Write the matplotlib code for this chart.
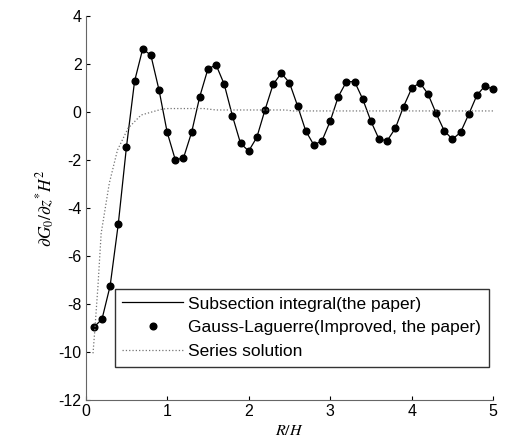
import numpy as np
import matplotlib
matplotlib.use('Agg')
import matplotlib.pyplot as plt

plt.rcParams['font.family'] = ['Liberation Sans', 'DejaVu Sans']
plt.rcParams['mathtext.fontset'] = 'stix'
plt.rcParams['axes.unicode_minus'] = False

# Gauss-Laguerre / subsection integral values, R/H = 0.1 ... 5.0
r_h = np.round(np.arange(1, 51) * 0.1, 1)
g_values = [-8.98, -8.65, -7.26, -4.68, -1.48, 1.27, 2.62, 2.35, 0.90, -0.86,
            -2.01, -1.93, -0.86, 0.63, 1.78, 1.95, 1.14, -0.17, -1.32, -1.64,
            -1.07, 0.07, 1.14, 1.60, 1.21, 0.24, -0.80, -1.39, -1.21, -0.40,
            0.63, 1.25, 1.25, 0.52, -0.40, -1.15, -1.21, -0.69, 0.21, 0.97,
            1.21, 0.74, -0.07, -0.80, -1.15, -0.86, -0.11, 0.68, 1.08, 0.93]

# Series solution
series_x = [0.09, 0.11, 0.15, 0.19, 0.29, 0.39, 0.52, 0.68, 0.93, 1.0,
            1.45, 1.6, 2.45, 2.55, 5.0]
series_y = [-10.07, -9.2, -7.3, -5.07, -2.98, -1.6, -0.69, -0.14, 0.1, 0.13,
            0.13, 0.07, 0.07, 0.03, 0.03]

fig = plt.figure(figsize=(5.1, 4.48), dpi=100)
ax = fig.add_axes([0.168, 0.108, 0.799, 0.857])

ax.plot(r_h, g_values, '-', color='black', lw=0.9,
        label='Subsection integral(the paper)')
ax.plot(r_h, g_values, 'o', color='black', ms=4.8, ls='none', clip_on=False,
        label='Gauss-Laguerre(Improved, the paper)')
ax.plot(series_x, series_y, ':', color='0.45', lw=0.9, label='Series solution')

ax.set_xlim(0, 5)
ax.set_ylim(-12, 4)
ax.set_xticks(range(0, 6))
ax.set_yticks(range(-12, 5, 2))
ax.spines['top'].set_visible(False)
ax.spines['right'].set_visible(False)
ax.spines['left'].set_color('0.4')
ax.spines['bottom'].set_color('0.4')
ax.tick_params(direction='in', length=3, labelsize=11.5, colors='black', pad=3)

ax.set_xlabel('$R/H$', fontsize=11.5, labelpad=3)
ax.set_ylabel(r'$\partial G_0/\partial z^{*}H^2$', fontsize=12.5, labelpad=1)

leg = ax.legend(loc='lower right', bbox_to_anchor=(0.99, 0.085), fontsize=12.5,
                frameon=True, fancybox=False, edgecolor='black', handlelength=3.5,
                borderpad=0.45, labelspacing=0.5, handletextpad=0.3,
                borderaxespad=0)
leg.get_frame().set_linewidth(1.0)

fig.savefig('out.png', dpi=100)
